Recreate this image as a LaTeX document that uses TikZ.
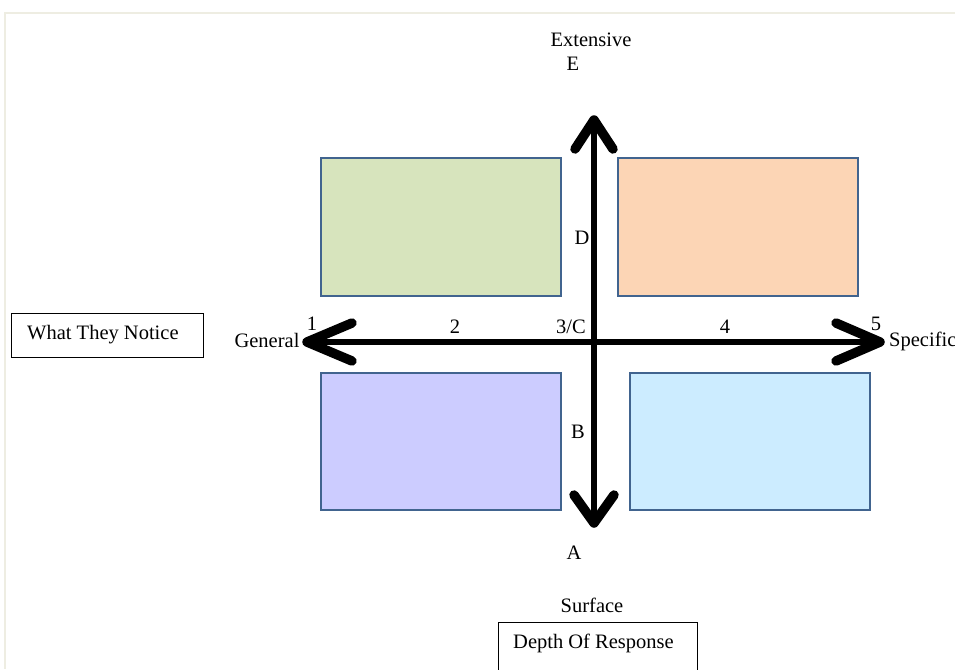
\documentclass[tikz,border=0pt]{standalone}
\usepackage{fontspec}
\setmainfont{Liberation Serif}
\usetikzlibrary{positioning,calc}

\definecolor{frameline}{HTML}{EEEDE2}
\definecolor{boxedge}{HTML}{41648F}
\definecolor{qgreen}{HTML}{D7E4BD}
\definecolor{qorange}{HTML}{FCD5B5}
\definecolor{qpurple}{HTML}{CCCCFF}
\definecolor{qblue}{HTML}{CCECFF}

\tikzset{
  lbl/.style={font=\fontsize{20.5}{24}\selectfont, inner sep=0pt},
  quad/.style={draw=boxedge, line width=2.5pt, inner sep=0pt, anchor=north west},
  tagbox/.style={draw=black, line width=1.2pt, fill=white, inner sep=0pt, anchor=north west},
  shaft/.style={line width=6.5pt},
  chevron/.style={line width=9.5pt, line cap=round, line join=round},
}

\begin{document}
\begin{tikzpicture}[x=1pt,y=-1pt]
  \useasboundingbox (0,0) rectangle (955,669);
  \clip (0,0) rectangle (955,669);
  \fill[white] (0,0) rectangle (955,669);

  % page frame
  \draw[frameline, line width=2pt] (5,669) -- (5,13) -- (955,13);

  % quadrant boxes
  \node[quad, fill=qgreen,  minimum width=240pt, minimum height=138pt] (qa) at (319.5,156.5) {};
  \node[quad, fill=qorange, minimum width=240pt, minimum height=138pt] (qb) at (616.5,156.5) {};
  \node[quad, fill=qpurple, minimum width=240pt, minimum height=137pt] (qc) at (319.5,371.5) {};
  \node[quad, fill=qblue,   minimum width=240pt, minimum height=137pt] (qd) at (628.5,371.5) {};

  % axis end points
  \coordinate (top) at (594,120);
  \coordinate (bot) at (594,523);
  \coordinate (lft) at (307,342);
  \coordinate (rgt) at (880,342);

  % axes
  \draw[shaft] (top) -- (bot);
  \draw[shaft] (lft) -- (rgt);

  % arrow heads
  \draw[chevron] ($(top)+(-19,29)$) -- (top) -- ($(top)+(19,29)$);
  \draw[chevron] ($(bot)+(-20,-28)$) -- (bot) -- ($(bot)+(20,-28)$);
  \draw[chevron] ($(lft)+(45,-19)$) -- (lft) -- ($(lft)+(45,19)$);
  \draw[chevron] ($(rgt)+(-44,-19)$) -- (rgt) -- ($(rgt)+(-44,19)$);

  % vertical scale labels
  \node[lbl] (ext) at (591,40) {Extensive};
  \node[lbl] (le) at (573,64) {E};
  \node[lbl] (ld) at (582,238) {D};
  \node[lbl] (lb) at (578,432) {B};
  \node[lbl] (la) at (574,553) {A};
  \node[lbl] (surf) at (592,605) {Surface};

  % horizontal scale labels
  \node[lbl] (n1) at (312,324) {1};
  \node[lbl] (n2) at (455,327) {2};
  \node[lbl] (n3) at (571,327) {3/C};
  \node[lbl] (n4) at (725,327) {4};
  \node[lbl] (n5) at (876,324) {5};
  \node[lbl] (gen) at (267,340) {General};
  \node[lbl, anchor=west] (spec) at (889,341) {Specific};

  % axis titles
  \node[tagbox, minimum width=192pt, minimum height=44pt] (notice) at (11,313) {};
  \node[lbl, anchor=west] (noticetxt) at (27,335) {What They Notice};
  \node[tagbox, minimum width=199pt, minimum height=60pt] (depth) at (498,622) {};
  \node[lbl, anchor=west] (depthtxt) at (513,643) {Depth Of Response};
\end{tikzpicture}
\end{document}
